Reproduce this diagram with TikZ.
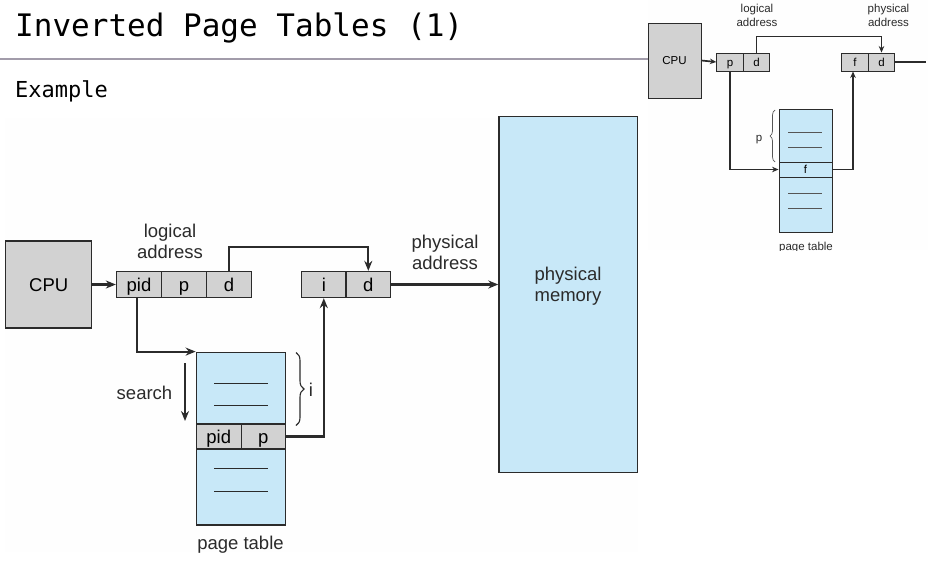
\documentclass[tikz,border=0pt]{standalone}
\usepackage{fontspec}
\setmainfont{Liberation Sans}
\newfontfamily\titlefont{DejaVu Sans Mono}
\usetikzlibrary{arrows.meta,decorations.pathreplacing,calc}
\definecolor{cellgray}{HTML}{D2D2D2}
\definecolor{memblue}{HTML}{C8E8F8}
\definecolor{edgec}{HTML}{2B2B2B}
\definecolor{rulegray}{HTML}{A29CAA}
\definecolor{bgfaint}{HTML}{FEFEFE}
\begin{document}
\begin{tikzpicture}[x=1pt,y=-1pt,
  box/.style={draw=edgec, line width=1.3pt, inner sep=0pt, text height=13.5pt, text depth=0pt,
    font=\fontsize{18.5}{21}\selectfont},
  cell/.style={box, fill=cellgray, minimum width=45pt, minimum height=26pt},
  ibox/.style={draw=edgec, line width=0.9pt, inner sep=0pt, text height=8.4pt, text depth=0pt,
    font=\fontsize{11.5}{13.5}\selectfont},
  icell/.style={ibox, fill=cellgray, minimum width=26.5pt, minimum height=18pt},
  lbl/.style={inner sep=0pt, align=center, font=\fontsize{18.5}{21}\selectfont, text=edgec},
  ilbl/.style={inner sep=0pt, align=center, font=\fontsize{11.5}{13.5}\selectfont, text=edgec},
  conn/.style={draw=edgec, line width=2.2pt, -{Stealth[length=10pt,width=8pt]}},
  iconn/.style={draw=edgec, line width=1.7pt, -{Stealth[length=6.5pt,width=5.5pt]}},
  tline/.style={draw=edgec, line width=1.3pt},
  itline/.style={draw=edgec!80, line width=0.9pt}
]
\useasboundingbox (0,0) rectangle (928,568);
% backgrounds
\fill[bgfaint] (5,118) rectangle (638,552);
\fill[bgfaint] (648,0) rectangle (928,250);
% title
\draw[rulegray, line width=1.5pt] (0,59) -- (648,59);
\node[anchor=base west, inner sep=0pt, font=\titlefont\fontsize{31}{36}\selectfont] (title) at (15,36) {Inverted Page Tables (1)};
\node[anchor=base west, inner sep=0pt, font=\titlefont\fontsize{22}{26}\selectfont] (example) at (15,97) {Example};

% ===== main diagram =====
\node[box, fill=cellgray, minimum width=86pt, minimum height=87pt] (cpu) at (48.7,284.5) {CPU};
\node[cell] (pid) at (139,284.5) {pid};
\node[cell] (lp) at (184,284.5) {p};
\node[cell] (ld) at (229,284.5) {d};
\node[cell] (pi) at (323.8,284.5) {i};
\node[cell, minimum width=44.5pt] (pd) at (368.3,284.5) {d};
\node[box, fill=memblue, minimum width=138.7pt, minimum height=355.6pt] (mem) at (568.3,294.5) {};
\node[lbl] (memlbl) at (568,286) {physical\\memory};
\node[lbl] (lalbl) at (170,241.5) {logical\\address};
\node[lbl] (palbl) at (445,252) {physical\\address};

% page table
\node[box, fill=memblue, minimum width=89pt, minimum height=172.7pt] (pt) at (240.8,438.6) {};
\node[cell, minimum width=45pt, minimum height=25pt] (tpid) at (218.8,436.5) {pid};
\node[cell, minimum width=44pt, minimum height=25pt] (tp) at (263.3,436.5) {p};
\draw[tline] (214,383.3) -- (268,383.3);
\draw[tline] (214,405.7) -- (268,405.7);
\draw[tline] (214,468.3) -- (268,468.3);
\draw[tline] (214,491.3) -- (268,491.3);
\node[lbl, anchor=base] (ptlbl) at (240.5,549) {page table};
\node[lbl, anchor=base] (searchlbl) at (144.5,399) {search};
\coordinate (s1) at (185,363);
\coordinate (s2) at (185,421);
\draw[conn] (s1) -- (s2);
\coordinate (b1) at (296,352.5);
\coordinate (b2) at (296,425.5);
\draw[draw=edgec, line width=1.1pt, decorate, decoration={brace, amplitude=8pt}] (b1) -- (b2);
\node[lbl, anchor=base] (ilbl) at (311,396) {i};

% connectors
\draw[conn] (cpu.east) -- (pid.west);
\draw[conn] (ld.north) -- ++(0,-24.2) -| (pd.north);
\draw[conn] ([xshift=-2pt]pid.south) |- (pt.north west);
\draw[conn] (tp.east) -| (pi.south);
\draw[conn] (pd.east) -- (pd.east -| mem.west);

% ===== inset =====
\begin{scope}
\clip (645,0) rectangle (928,250.5);
\node[ibox, fill=cellgray, minimum width=53pt, minimum height=75pt] (icpu) at (674.5,60.5) {CPU};
\node[icell] (ip) at (730,62) {p};
\node[icell] (id) at (756.5,62) {d};
\node[icell] (if) at (855,62) {f};
\node[icell] (id2) at (881.5,62) {d};
\node[ilbl] (ilalbl) at (757,15.5) {logical\\address};
\node[ilbl] (ipalbl) at (888.5,15.5) {physical\\address};
\node[ibox, fill=memblue, minimum width=53pt, minimum height=123pt] (ipt) at (805.5,170.5) {};
\node[ibox, fill=memblue, minimum width=53pt, minimum height=15pt] (ifrow) at (805.5,169.5) {f};
\draw[itline] (788,132) -- (822,132);
\draw[itline] (788,147) -- (822,147);
\draw[itline] (788,193) -- (822,193);
\draw[itline] (788,208) -- (822,208);
\coordinate (ib1) at (775,162);
\coordinate (ib2) at (775,110);
\draw[draw=edgec!80, line width=0.7pt, decorate, decoration={brace, amplitude=5pt}] (ib1) -- (ib2);
\node[ilbl, anchor=base] (iplbl) at (759,141) {p};
\node[ilbl, anchor=base] (iptlbl) at (806,250) {page table};
\coordinate (iend) at (926,62);
\draw[iconn] (icpu.east) -- (ip.west);
\draw[iconn] (id.north) -- ++(0,-16) -| (id2.north);
\draw[iconn] (ip.south) |- (ifrow.west);
\draw[iconn] (ifrow.east) -| ([xshift=-2pt]if.south);
\draw[draw=edgec, line width=1.7pt] (id2.east) -- (iend);
\end{scope}
\end{tikzpicture}
\end{document}
